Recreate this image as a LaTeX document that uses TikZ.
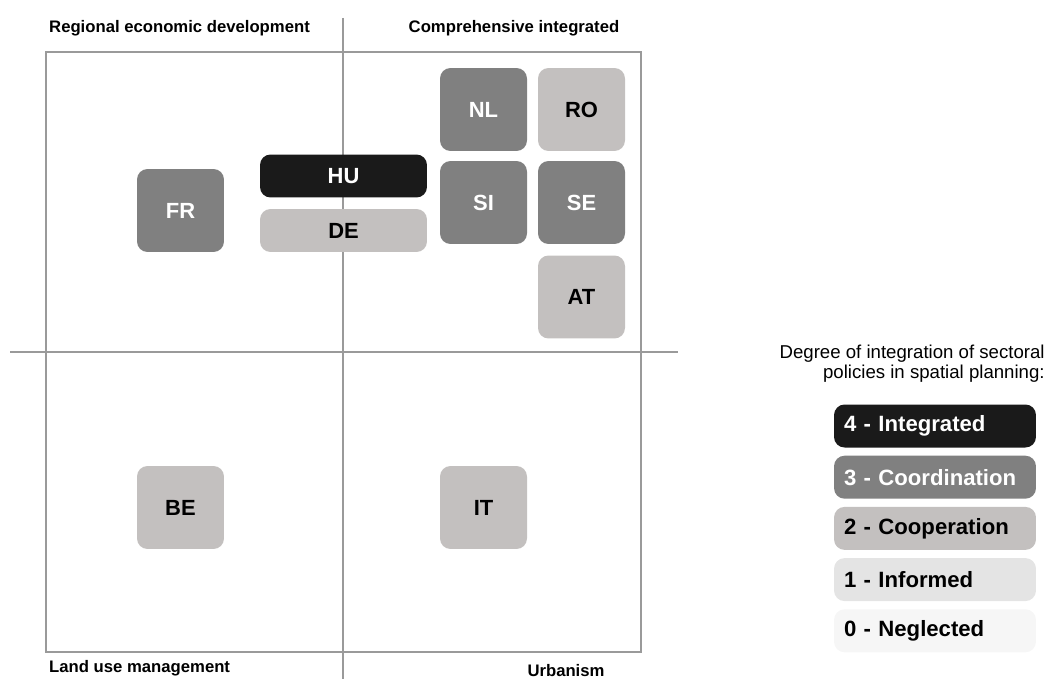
\documentclass[tikz,border=0pt]{standalone}
\usepackage{fontspec}
\setmainfont{Liberation Sans}
\usepackage{tikz}
\usetikzlibrary{positioning}
\definecolor{lvlfour}{HTML}{1A1A1A}
\definecolor{lvlthree}{HTML}{808080}
\definecolor{lvltwo}{HTML}{C3C0BF}
\definecolor{lvlone}{HTML}{E4E4E4}
\definecolor{lvlzero}{HTML}{F6F6F6}
\definecolor{axisgray}{HTML}{9A9A9A}
\tikzset{
  cbox/.style={rectangle,rounded corners=6pt,draw=none,align=center,
    font=\fontsize{12.5}{14}\selectfont\bfseries,minimum width=1.74cm,minimum height=1.66cm},
  wbox/.style={cbox,minimum width=3.34cm,minimum height=0.86cm},
  c4/.style={fill=lvlfour,text=white},
  c3/.style={fill=lvlthree,text=white},
  c2/.style={fill=lvltwo,text=black},
  legbox/.style={rectangle,rounded corners=6pt,draw=none,minimum width=4.04cm,
    minimum height=0.86cm,inner xsep=0.2cm,text width=3.64cm,align=left,
    font=\fontsize{12.6}{15}\selectfont\bfseries},
  axlbl/.style={font=\fontsize{9.5}{11}\selectfont\bfseries},
  axline/.style={draw=axisgray,line width=0.6pt},
}

\begin{document}
\begin{tikzpicture}[x=0.02cm,y=-0.02cm]
  \useasboundingbox (0,0) rectangle (1047,679);
  % frame and quadrant axes
  \draw[axline] (46,52) rectangle (641,652);
  \draw[axline] (343,18) -- (343,679);
  \draw[axline] (10,352) -- (678,352);
  \node[axlbl,anchor=west] (regdev) at (43,28) {Regional economic development};
  \node[axlbl] (compint) at (514,28) {Comprehensive integrated};
  \node[axlbl,anchor=west] (landuse) at (43,668) {Land use management};
  \node[axlbl] (urban) at (566,671) {Urbanism};
  % countries
  \node[cbox,c3] (nl) at (483.5,109.5) {NL};
  \node[cbox,c2] (ro) at (581.5,109.5) {RO};
  \node[cbox,c3] (si) at (483.5,202.5) {SI};
  \node[cbox,c3] (se) at (581.5,202.5) {SE};
  \node[cbox,c2] (at) at (581.5,297) {AT};
  \node[wbox,c4] (hu) at (343.5,176) {HU};
  \node[wbox,c2] (de) at (343.5,230.5) {DE};
  \node[cbox,c3] (fr) at (180.5,210.5) {FR};
  \node[cbox,c2] (be) at (180.5,507.5) {BE};
  \node[cbox,c2] (it) at (483.5,507.5) {IT};
  % legend
  \node[align=right,anchor=north east,inner sep=0pt,
    font=\fontsize{10.6}{11.4}\selectfont] (legtitle) at (1045,345)
    {Degree of integration of sectoral\\policies in spatial planning:};
  \node[legbox,c4] (l4) at (935,426) {4 - Integrated};
  \node[legbox,c3,below=0.15cm of l4] (l3) {3 - Coordination};
  \node[legbox,c2,below=0.15cm of l3] (l2) {2 - Cooperation};
  \node[legbox,fill=lvlone,below=0.15cm of l2] (l1) {1 - Informed};
  \node[legbox,fill=lvlzero,below=0.15cm of l1] (l0) {0 - Neglected};
\end{tikzpicture}
\end{document}
